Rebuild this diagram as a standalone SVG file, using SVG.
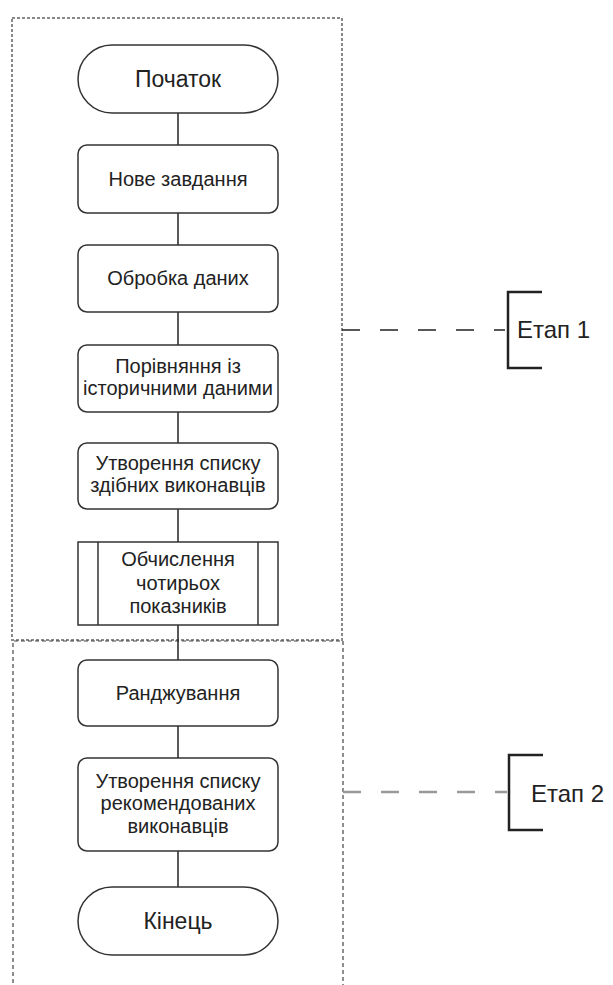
<svg xmlns="http://www.w3.org/2000/svg" width="613" height="985" viewBox="0 0 613 985">
<style>
.box{fill:#fff;stroke:#333;stroke-width:1.5}
.t{font-family:"Liberation Sans",Arial,sans-serif;font-size:20px;fill:#222;text-anchor:middle}
.tb{font-family:"Liberation Sans",Arial,sans-serif;font-size:23px;fill:#222;text-anchor:middle}
.conn{stroke:#222;stroke-width:1.5;fill:none}
.frame1{fill:none;stroke:#888;stroke-width:2;stroke-dasharray:3 2}
.frame2{fill:none;stroke:#444;stroke-width:1.2;stroke-dasharray:4 3}
.br{fill:none;stroke:#222;stroke-width:2.5}
.lbl{font-family:"Liberation Sans",Arial,sans-serif;font-size:24px;fill:#222}
</style>
<rect x="0" y="0" width="613" height="985" fill="#fff"/>
<g id="frames">
<rect class="frame1" x="12" y="18" width="330" height="622"/>
<path class="frame2" d="M13,990 V641 H343 V990"/>
</g>
<g id="connectors">
<line class="conn" x1="178" y1="113" x2="178" y2="145"/>
<line class="conn" x1="178" y1="213" x2="178" y2="245"/>
<line class="conn" x1="178" y1="312" x2="178" y2="345"/>
<line class="conn" x1="178" y1="412" x2="178" y2="443"/>
<line class="conn" x1="178" y1="509" x2="178" y2="542"/>
<line class="conn" x1="178" y1="625" x2="178" y2="660"/>
<line class="conn" x1="178" y1="726" x2="178" y2="758"/>
<line class="conn" x1="178" y1="851" x2="178" y2="887"/>
<line x1="342" y1="330" x2="505" y2="330" stroke="#222" stroke-width="1.5" stroke-dasharray="18 20"/>
<line x1="343" y1="792" x2="507" y2="792" stroke="#999" stroke-width="2.5" stroke-dasharray="18 20"/>
</g>
<g id="start">
<rect class="box" x="78" y="45" width="200" height="68" rx="34"/>
<text class="tb" x="178" y="87">Початок</text>
</g>
<g id="new_task">
<rect class="box" x="78" y="145" width="200" height="68" rx="9"/>
<text class="t" x="178" y="186">Нове завдання</text>
</g>
<g id="processing">
<rect class="box" x="78" y="245" width="200" height="67" rx="9"/>
<text class="t" x="178" y="285">Обробка даних</text>
</g>
<g id="compare">
<rect class="box" x="78" y="345" width="200" height="67" rx="9"/>
<text class="t" x="178" y="373">Порівняння із</text>
<text class="t" x="178" y="395">історичними даними</text>
</g>
<g id="capable_list">
<rect class="box" x="78" y="443" width="200" height="66" rx="9"/>
<text class="t" x="178" y="470">Утворення списку</text>
<text class="t" x="178" y="492">здібних виконавців</text>
</g>
<g id="compute">
<rect class="box" x="78" y="542" width="200" height="83"/>
<line class="box" x1="98" y1="542" x2="98" y2="625"/>
<line class="box" x1="258" y1="542" x2="258" y2="625"/>
<text class="t" x="178" y="566">Обчислення</text>
<text class="t" x="178" y="590">чотирьох</text>
<text class="t" x="178" y="613">показників</text>
</g>
<g id="ranking">
<rect class="box" x="78" y="660" width="200" height="66" rx="9"/>
<text class="t" x="178" y="700">Ранджування</text>
</g>
<g id="recommended_list">
<rect class="box" x="78" y="758" width="200" height="93" rx="9"/>
<text class="t" x="178" y="788">Утворення списку</text>
<text class="t" x="178" y="810">рекомендованих</text>
<text class="t" x="178" y="833">виконавців</text>
</g>
<g id="end">
<rect class="box" x="78" y="887" width="200" height="68" rx="34"/>
<text class="tb" x="178" y="929">Кінець</text>
</g>
<g id="stage1">
<path class="br" d="M542,292 H508 V368 H542"/>
<text class="lbl" x="517" y="338">Етап 1</text>
</g>
<g id="stage2">
<path class="br" d="M543,755 H509 V830 H543"/>
<text class="lbl" x="531" y="802">Етап 2</text>
</g>
</svg>
